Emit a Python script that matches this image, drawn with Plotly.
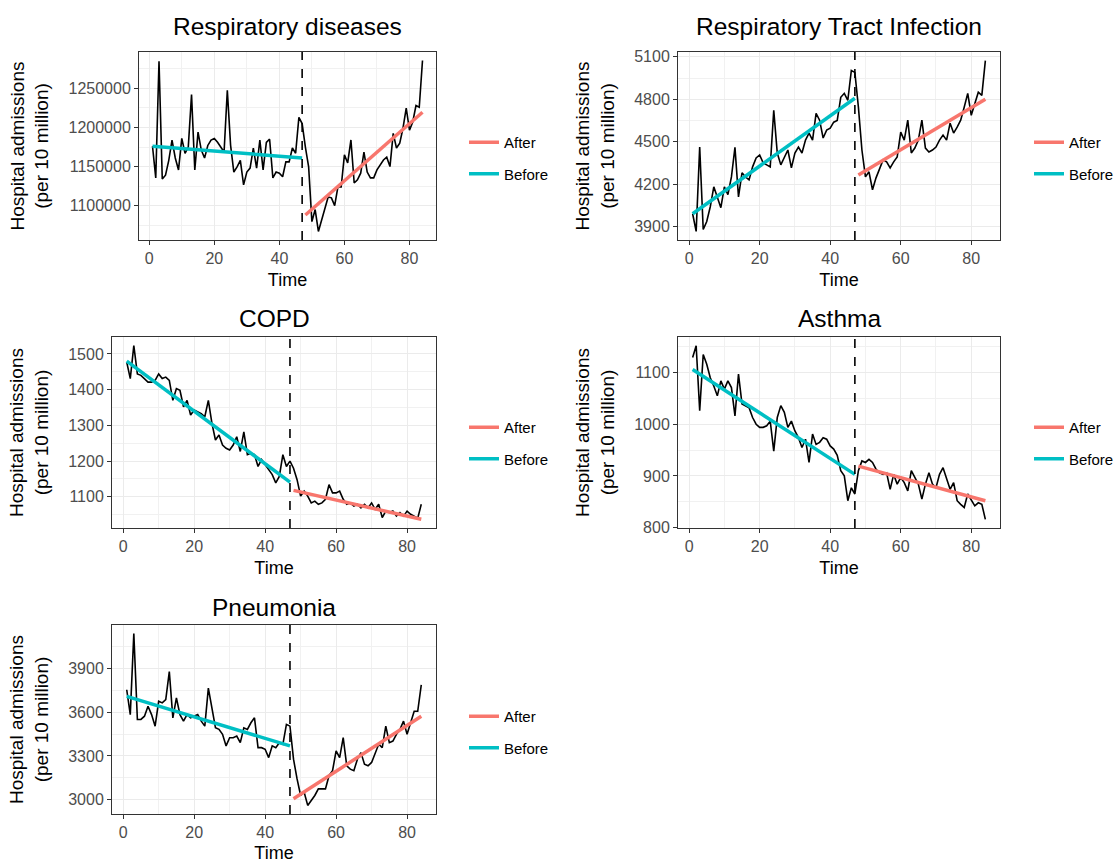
import plotly.graph_objects as go

# ---------------- data ----------------
time = list(range(1, 85))
intervention = 47
before_t = [1, 47]
after_t = [48, 84]

titles = ["Respiratory diseases", "Respiratory Tract Infection", "COPD", "Asthma", "Pneumonia"]
legend_labels = ["After", "Before"]

resp_values = [
    1176000, 1135500, 1284700, 1134000, 1139000, 1158000, 1183800, 1161000, 1145700, 1186000,
    1167000, 1175000, 1242000, 1145700, 1194000, 1171000, 1161000, 1177000, 1183800, 1186000,
    1181000, 1175000, 1168600, 1247500, 1177500, 1143000, 1149500, 1158000, 1126600, 1143000,
    1148000, 1173700, 1148000, 1184000, 1145700, 1181000, 1185000, 1135500, 1143000, 1141500,
    1137000, 1156000, 1156000, 1173700, 1167000, 1213000, 1205000, 1175000, 1149500, 1079600,
    1095000, 1067000, 1082000, 1098700, 1111000, 1110000, 1100000, 1124000, 1124000, 1165000,
    1154600, 1184000, 1129000, 1133000, 1141500, 1168600, 1143000, 1135500, 1135500, 1145700,
    1152000, 1158400, 1162000, 1150000, 1192500, 1173700, 1180000, 1199000, 1224600, 1196600,
    1207000, 1228000, 1225800, 1285600]
resp_before_fit = [1176000, 1161000]
resp_after_fit = [1088000, 1219500]

rti_values = [
    3990, 3865, 4462, 3879, 3935, 4040, 4181, 4111, 4033, 4181,
    4125, 4251, 4460, 4110, 4280, 4250, 4230, 4322, 4385, 4406,
    4350, 4336, 4322, 4722, 4420, 4336, 4385, 4441, 4315, 4420,
    4462, 4420, 4511, 4560, 4511, 4700, 4652, 4526, 4582, 4596,
    4638, 4650, 4814, 4842, 4793, 5004, 4990, 4744, 4441, 4251,
    4287, 4160, 4244, 4315, 4371, 4357, 4315, 4357, 4392, 4568,
    4511, 4652, 4420, 4455, 4511, 4652, 4455, 4427, 4441, 4462,
    4511, 4547, 4511, 4631, 4561, 4603, 4652, 4744, 4842, 4687,
    4772, 4850, 4828, 5074]
rti_before_fit = [3990, 4807]
rti_after_fit = [4265, 4800]

copd_values = [
    1477, 1431, 1523, 1444, 1440, 1431, 1421, 1421, 1426, 1444,
    1431, 1435, 1426, 1370, 1403, 1398, 1352, 1370, 1329, 1343,
    1338, 1333, 1324, 1370, 1306, 1259, 1273, 1245, 1236, 1231,
    1245, 1268, 1227, 1282, 1218, 1222, 1218, 1185, 1204, 1190,
    1176, 1162, 1139, 1157, 1218, 1185, 1200, 1180, 1148, 1102,
    1116, 1102, 1083, 1088, 1079, 1083, 1093, 1134, 1111, 1111,
    1116, 1093, 1079, 1083, 1074, 1079, 1069, 1079, 1069, 1083,
    1065, 1079, 1042, 1060, 1056, 1060, 1046, 1056, 1046, 1060,
    1051, 1046, 1040, 1079]
copd_before_fit = [1480, 1141]
copd_after_fit = [1118, 1037]

asthma_values = [
    1129, 1152, 1026, 1135, 1116, 1090, 1074, 1055, 1084, 1068,
    1084, 1071, 1016, 1097, 1039, 1036, 1032, 1013, 1000, 994,
    994, 997, 1006, 948, 1013, 1036, 1023, 994, 1006, 987,
    974, 955, 971, 926, 981, 961, 965, 974, 971, 958,
    952, 940, 910, 900, 852, 877, 865, 910, 929, 926,
    932, 926, 913, 906, 903, 906, 874, 903, 884, 897,
    887, 871, 910, 897, 884, 855, 884, 906, 884, 877,
    903, 916, 897, 874, 887, 852, 845, 839, 865, 852,
    842, 848, 845, 816]
asthma_before_fit = [1106, 903]
asthma_after_fit = [919, 852]

pneu_values = [
    3753, 3583, 4137, 3550, 3550, 3572, 3640, 3583, 3504, 3674,
    3663, 3685, 3877, 3561, 3697, 3583, 3538, 3583, 3561, 3572,
    3583, 3538, 3504, 3764, 3640, 3493, 3482, 3448, 3369, 3425,
    3425, 3436, 3391, 3493, 3482, 3527, 3561, 3357, 3357, 3346,
    3289, 3369, 3357, 3391, 3380, 3516, 3504, 3278, 3143, 3030,
    3052, 2962, 2996, 3030, 3075, 3075, 3075, 3165, 3199, 3335,
    3289, 3425, 3233, 3210, 3199, 3278, 3323, 3244, 3233, 3256,
    3323, 3380, 3357, 3504, 3391, 3402, 3448, 3482, 3538, 3448,
    3527, 3606, 3606, 3787]
pneu_before_fit = [3708, 3369]
pneu_after_fit = [3007, 3572]

x_ticks = [0, 20, 40, 60, 80]
y_tick_steps = [50000, 300, 100, 100, 300]

series = [
    (resp_values, resp_before_fit, resp_after_fit),
    (rti_values, rti_before_fit, rti_after_fit),
    (copd_values, copd_before_fit, copd_after_fit),
    (asthma_values, asthma_before_fit, asthma_after_fit),
    (pneu_values, pneu_before_fit, pneu_after_fit),
]

# ---------------- layout (pixel boxes) ----------------
W, H = 1119, 863
# (left, right, top, bottom) of each panel in pixels
boxes = [
    (139, 436, 52, 240),
    (678, 1000, 52, 240),
    (112, 436, 337, 528),
    (678, 1000, 337, 528),
    (112, 436, 625, 814),
]
title_y = [27, 27, 318, 318, 607]
legend_pos = [(464, 126), (1029, 126), (464, 411), (1029, 411), (464, 700)]

RED = "#F8766D"
TEAL = "#00BFC4"
FONT = "Liberation Sans, Arial, sans-serif"

def px_x(p):
    return p / W

def px_y(p):
    return 1 - p / H

fig = go.Figure()
layout = dict(
    width=W, height=H, margin=dict(l=0, r=0, t=0, b=0),
    plot_bgcolor="white", paper_bgcolor="white",
    font=dict(family=FONT, color="black"),
    annotations=[], shapes=[],
)

x_lo, x_hi = min(time), max(time)
x_pad = (x_hi - x_lo) * 0.05

for i, ((vals, bfit, afit), title, box, step) in enumerate(zip(series, titles, boxes, y_tick_steps)):
    n = i + 1
    xa = "x" if n == 1 else f"x{n}"
    ya = "y" if n == 1 else f"y{n}"
    lg = "legend" if n == 1 else f"legend{n}"
    allv = list(vals) + list(bfit) + list(afit)
    lo, hi = min(allv), max(allv)
    pad = (hi - lo) * 0.05
    l, r, t, b = box

    fig.add_trace(go.Scatter(x=time, y=vals, mode="lines", line=dict(color="black", width=1.6),
                             xaxis=xa, yaxis=ya, showlegend=False, hoverinfo="x+y"))
    fig.add_trace(go.Scatter(x=after_t, y=afit, mode="lines", name=legend_labels[0],
                             line=dict(color=RED, width=3.5), xaxis=xa, yaxis=ya,
                             legend=lg, legendgroup=f"a{n}"))
    fig.add_trace(go.Scatter(x=before_t, y=bfit, mode="lines", name=legend_labels[1],
                             line=dict(color=TEAL, width=3.5), xaxis=xa, yaxis=ya,
                             legend=lg, legendgroup=f"b{n}"))

    axis_common = dict(
        showline=True, linecolor="#333333", linewidth=1, mirror=True,
        ticks="outside", ticklen=4, tickcolor="#333333", tickwidth=1,
        tickfont=dict(size=16, color="#4D4D4D", family=FONT),
        gridcolor="#EBEBEB", gridwidth=1, zeroline=False,
        automargin=False,
    )
    layout["xaxis" if n == 1 else f"xaxis{n}"] = dict(
        axis_common, anchor=ya, domain=[px_x(l), px_x(r)],
        range=[x_lo - x_pad, x_hi + x_pad], tickmode="array", tickvals=x_ticks,
        minor=dict(dtick=10, tick0=0, showgrid=True, gridcolor="#F1F1F1", gridwidth=0.8),
        title=dict(text="Time", font=dict(size=18, color="black", family=FONT), standoff=7),
    )
    layout["yaxis" if n == 1 else f"yaxis{n}"] = dict(
        axis_common, anchor=xa, domain=[px_y(b), px_y(t)],
        range=[lo - pad, hi + pad], tickmode="linear", tick0=0, dtick=step, tickformat="d",
        minor=dict(dtick=step / 2, tick0=0, showgrid=True, gridcolor="#F1F1F1", gridwidth=0.8),
        title=dict(text="Hospital admissions<br>(per 10 million)",
                   font=dict(size=19, color="black", family=FONT), standoff=14),
    )
    layout["annotations"].append(dict(
        text=title, xref="paper", yref="paper", x=px_x((l + r) / 2), y=px_y(title_y[i]),
        xanchor="center", yanchor="middle", showarrow=False,
        font=dict(size=24.5, color="black", family=FONT)))
    layout["shapes"].append(dict(
        type="line", xref=xa, yref=f"{ya} domain", x0=intervention, x1=intervention, y0=0, y1=1,
        line=dict(color="black", width=1.6, dash="dash"), layer="above"))
    lx, ly = legend_pos[i]
    layout[lg] = dict(
        x=px_x(lx), y=px_y(ly), xanchor="left", yanchor="top", xref="paper", yref="paper",
        bgcolor="rgba(0,0,0,0)", font=dict(size=15, color="black", family=FONT),
        traceorder="grouped", tracegroupgap=9, itemwidth=30,
    )

fig.update_layout(**layout)
# remove the browser's default 8px page margin so the figure fills the window
fig.write_html("out.html", config={"displayModeBar": False},
               post_script="document.body.style.margin='0';")
